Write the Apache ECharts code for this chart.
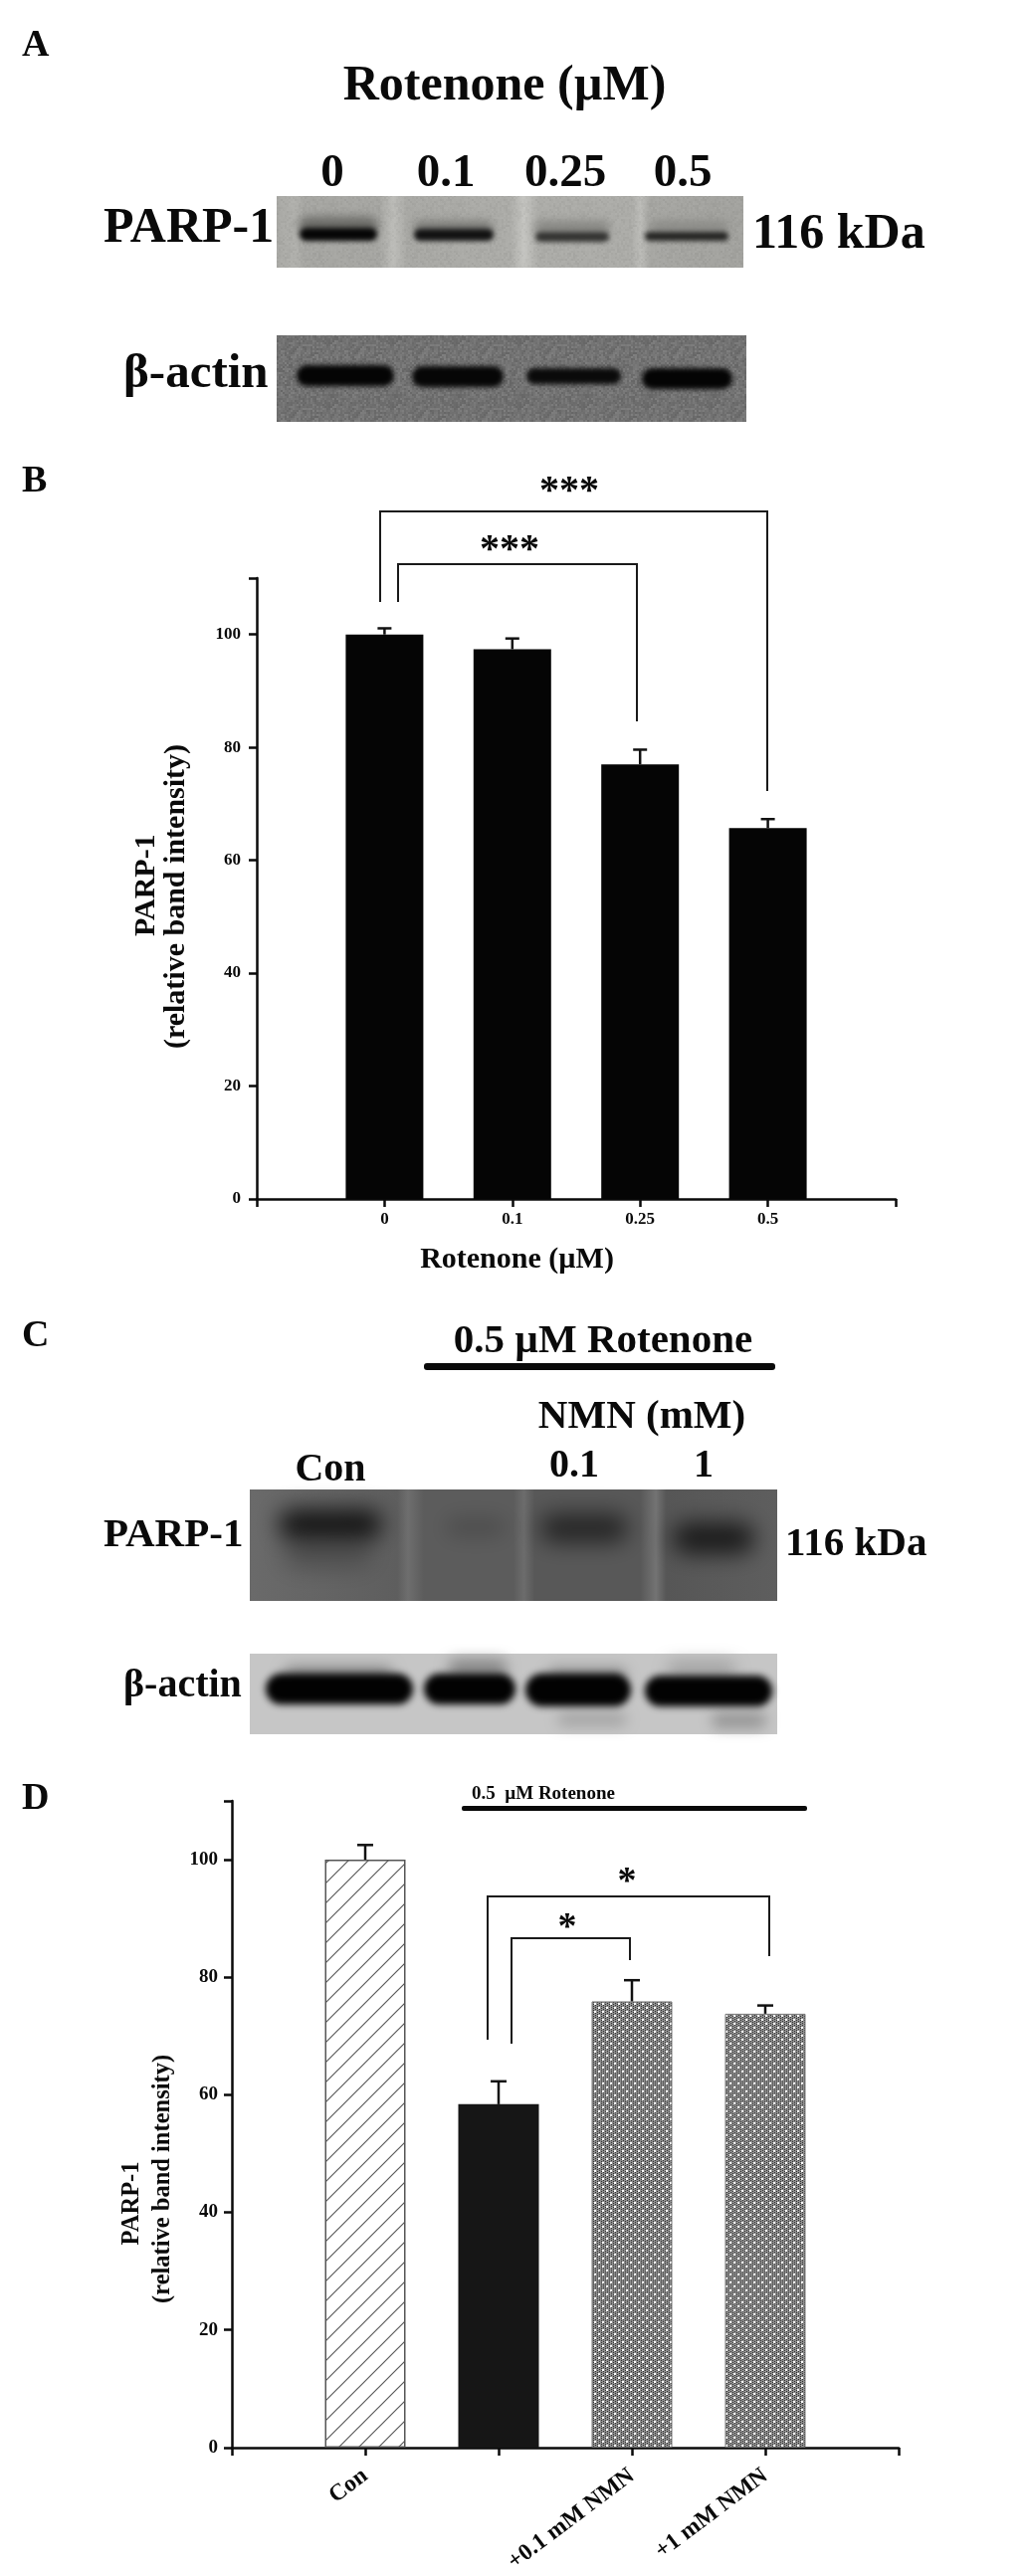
<!DOCTYPE html>
<html>
<head>
<meta charset="utf-8">
<style>
  html, body { margin: 0; padding: 0; background: #fff; }
  #chart { width: 1033px; height: 2589px; }
</style>
</head>
<body>
<div id="chart"></div>
<script src="https://cdn.jsdelivr.net/npm/echarts@6/dist/echarts.min.js"></script>
<script>
// panel B
const rotenoneDoses = ['', '0', '0.1', '0.25', '0.5', '']
const rotenoneMeans = [null, 100, 97.4, 77, 65.7, null]
const rotenoneErrTop = [null, 101.1, 99.3, 79.6, 67.3, null]

// panel D
const nmnGroups = ['', 'Con', ' ', '+0.1 mM NMN', '+1 mM NMN', '']
const nmnMeans = [null, 100, 58.4, 75.9, 73.8, null]
const nmnErrTop = [null, 102.5, 62.3, 79.5, 75.2, null]

const yTicks = [0, 20, 40, 60, 80, 100]

const SERIF = '"Liberation Serif", "Times New Roman", serif'
const INK = '#0a0a0a'

function hatchTile() {
  const c = document.createElement('canvas')
  c.width = c.height = 20
  const g = c.getContext('2d')
  g.fillStyle = '#fff'
  g.fillRect(0, 0, 20, 20)
  g.strokeStyle = '#5a5a5a'
  g.lineWidth = 1.2
  g.beginPath()
  g.moveTo(-2, 22); g.lineTo(22, -2)
  g.moveTo(-2, 2); g.lineTo(2, -2)
  g.moveTo(18, 22); g.lineTo(22, 18)
  g.stroke()
  return c
}

function dotTile() {
  const c = document.createElement('canvas')
  c.width = c.height = 16
  const g = c.getContext('2d')
  g.fillStyle = '#8f8f8f'
  g.fillRect(0, 0, 16, 16)
  g.fillStyle = '#333'
  for (let x = 0; x < 16; x += 2) {
    for (let y = (x % 4 ? 1 : 0); y < 16; y += 2) g.fillRect(x, y, 1, 1)
  }
  g.fillStyle = '#fff'
  ;[[1, 1], [9, 1], [5, 5], [13, 5], [1, 9], [9, 9], [5, 13], [13, 13]].forEach(p => g.fillRect(p[0], p[1], 2, 2))
  return c
}

// speckle for the film background, hash of the pixel position
function grainTile(amp) {
  const c = document.createElement('canvas')
  c.width = c.height = 64
  const g = c.getContext('2d')
  for (let x = 0; x < 64; x += 2) {
    for (let y = 0; y < 64; y += 2) {
      const h = Math.sin(x * 12.9898 + y * 78.233) * 43758.5453
      const v = (h - Math.floor(h)) * 2 - 1
      g.fillStyle = v > 0 ? `rgba(255,255,255,${v * amp})` : `rgba(0,0,0,${-v * amp})`
      g.fillRect(x, y, 2, 2)
    }
  }
  return c
}

const label = (text, x, baseline, size, align) => ({
  type: 'text',
  z: 20,
  style: {
    text, x, y: baseline - size * 0.31,
    font: `bold ${size}px ${SERIF}`,
    fill: INK,
    align: align || 'left',
    verticalAlign: 'middle'
  }
})

const path = (points, width) => ({
  type: 'polyline',
  z: 20,
  shape: { points },
  style: { stroke: '#1a1a1a', lineWidth: width || 2, fill: null }
})

const film = (x, y, width, height, fill, grain) => {
  const out = [{ type: 'rect', z: 1, shape: { x, y, width, height }, style: { fill } }]
  if (grain) {
    out.push({ type: 'rect', z: 1, shape: { x, y, width, height },
      style: { fill: { image: grainTile(grain), repeat: 'repeat' } } })
  }
  return out
}

// the shape sits off the page, only its blurred shadow lands on the film
const OFF = 3000
const band = (x, y, width, height, color, blur) => ({
  type: 'rect',
  z: 2,
  shape: { x: x - OFF, y, width, height, r: height / 2 },
  style: { fill: color, shadowBlur: blur, shadowColor: color, shadowOffsetX: OFF }
})

const lanes = (stops) => ({
  type: 'linear', x: 0, y: 0, x2: 1, y2: 0,
  colorStops: stops.map(s => ({ offset: s[0], color: s[1] }))
})

const blotA1 = [
  ...film(278, 197, 469, 72, lanes([[0, '#a8a8a4'], [0.04, '#b0b0ac'], [0.06, '#a6a6a2'], [0.22, '#a6a6a2'], [0.25, '#bcbcb8'], [0.28, '#a8a8a4'], [0.5, '#acaca8'], [0.53, '#c4c4c0'], [0.56, '#acaca8'], [0.76, '#acaca8'], [0.78, '#bcbcb8'], [0.8, '#a6a6a2'], [1, '#a2a29e']]), 0.04),
  band(300, 218, 80, 18, '#6a6a66', 10),
  band(416, 222, 80, 14, '#7a7a76', 10),
  band(537, 222, 76, 14, '#868682', 10),
  band(652, 222, 80, 12, '#8a8a86', 10),
  band(301, 229, 78, 13, '#060606', 5),
  band(416, 230, 80, 12, '#121212', 5),
  band(538, 233, 74, 10, '#333331', 5),
  band(648, 233, 84, 9, '#242422', 5)
]

const blotA2 = [
  ...film(278, 337, 472, 87, '#717171', 0.1),
  band(298, 367, 98, 21, '#040404', 5),
  band(414, 368, 92, 21, '#060606', 5),
  band(529, 370, 95, 16, '#0a0a0a', 5),
  band(645, 370, 91, 21, '#040404', 5)
]

const blotC1 = [
  ...film(251, 1497, 530, 112, lanes([[0, '#6a6a6a'], [0.28, '#5e5e5e'], [0.3, '#6e6e6e'], [0.33, '#5c5c5c'], [0.5, '#5c5c5c'], [0.52, '#6c6c6c'], [0.54, '#585858'], [0.74, '#585858'], [0.77, '#737373'], [0.79, '#565656'], [1, '#5e5e5e']])),
  band(285, 1545, 90, 30, '#4c4c4c', 24),
  band(280, 1517, 104, 30, '#141414', 22),
  band(448, 1525, 60, 20, '#4d4d4d', 20),
  band(543, 1521, 88, 30, '#262626', 22),
  band(676, 1530, 82, 32, '#1b1b1b', 22)
]

const blotC2 = [
  ...film(251, 1662, 530, 81, '#c6c6c6'),
  band(285, 1675, 110, 14, '#858585', 14),
  band(450, 1668, 60, 18, '#858585', 14),
  band(550, 1676, 80, 14, '#909090', 14),
  band(670, 1670, 70, 16, '#a0a0a0', 16),
  band(560, 1722, 70, 12, '#a0a0a0', 14),
  band(715, 1722, 55, 14, '#909090', 14),
  band(267, 1682, 148, 31, '#020202', 7),
  band(426, 1682, 92, 31, '#020202', 7),
  band(528, 1682, 106, 33, '#020202', 7),
  band(648, 1684, 128, 31, '#020202', 7)
]

const annotations = [
  ...blotA1, ...blotA2, ...blotC1, ...blotC2,

  label('A', 22, 58, 38),
  label('Rotenone (\u00b5M)', 507, 103, 50, 'center'),
  label('0', 334, 189, 47, 'center'),
  label('0.1', 448, 189, 47, 'center'),
  label('0.25', 568, 189, 47, 'center'),
  label('0.5', 686, 189, 47, 'center'),
  label('PARP-1', 104, 246, 50),
  label('116 kDa', 756, 252, 50),
  label('\u03b2-actin', 124, 392, 49),

  label('B', 22, 496, 38),
  label('***', 572, 507, 40, 'center'),
  label('***', 512, 566, 40, 'center'),
  path([[382, 605], [382, 514], [771, 514], [771, 795]]),
  path([[400, 605], [400, 567], [640, 567], [640, 725]]),

  label('C', 22, 1355, 38),
  label('0.5 \u00b5M Rotenone', 606, 1361, 41, 'center'),
  { type: 'rect', z: 20, shape: { x: 426, y: 1370, width: 353, height: 7, r: 3 }, style: { fill: INK } },
  label('NMN (mM)', 645, 1437, 41, 'center'),
  label('Con', 332, 1490, 40, 'center'),
  label('0.1', 577, 1486, 40, 'center'),
  label('1', 707, 1486, 40, 'center'),
  label('PARP-1', 104, 1556, 41),
  label('116 kDa', 789, 1565, 41),
  label('\u03b2-actin', 124, 1707, 40),

  label('D', 22, 1820, 38),
  label('0.5  \u00b5M Rotenone', 474, 1809, 19),
  { type: 'rect', z: 20, shape: { x: 464, y: 1815, width: 347, height: 5, r: 2 }, style: { fill: INK } },
  label('*', 630, 1904, 38, 'center'),
  label('*', 570, 1950, 38, 'center'),
  path([[490, 2050], [490, 1906], [773, 1906], [773, 1966]]),
  path([[514, 2054], [514, 1948], [633, 1948], [633, 1970]])
]

const axisLine = { show: true, onZero: false, lineStyle: { color: INK, width: 2.5 } }
const axisTick = { show: true, length: 8, lineStyle: { color: INK, width: 2.5 } }

function errorBars(index, errTop, capHalf) {
  return {
    type: 'custom',
    xAxisIndex: index,
    yAxisIndex: index,
    z: 5,
    data: errTop.map((top, i) => [i, top, index === 0 ? rotenoneMeans[i] : nmnMeans[i]]),
    encode: { x: 0, y: 1 },
    renderItem(params, api) {
      if (api.value(1) == null || isNaN(api.value(1))) return null
      const high = api.coord([api.value(0), api.value(1)])
      const base = api.coord([api.value(0), api.value(2)])
      const style = { stroke: '#111', lineWidth: 2.5 }
      return {
        type: 'group',
        children: [
          { type: 'line', shape: { x1: high[0], y1: base[1], x2: high[0], y2: high[1] }, style },
          { type: 'line', shape: { x1: high[0] - capHalf, y1: high[1], x2: high[0] + capHalf, y2: high[1] }, style }
        ]
      }
    }
  }
}

const hatch = { image: hatchTile(), repeat: 'repeat' }
const dots = { image: dotTile(), repeat: 'repeat' }
const nmnStyles = [
  null,
  { color: hatch, borderColor: '#555', borderWidth: 1.5 },
  { color: '#161616' },
  { color: dots, borderColor: '#777', borderWidth: 1 },
  { color: dots, borderColor: '#777', borderWidth: 1 },
  null
]

const chart = echarts.init(document.getElementById('chart'), null, { renderer: 'canvas' })

chart.setOption({
  animation: false,
  backgroundColor: '#fff',
  grid: [
    { left: 258, top: 581, width: 642, height: 624 },
    { left: 233, top: 1810, width: 670, height: 652 }
  ],
  xAxis: [
    {
      type: 'category',
      gridIndex: 0,
      data: rotenoneDoses,
      boundaryGap: false,
      axisLine, axisTick,
      axisLabel: { interval: 0, margin: 12, fontFamily: SERIF, fontWeight: 'bold', fontSize: 17, color: INK },
      name: 'Rotenone (\u00b5M)',
      nameLocation: 'middle',
      nameGap: 46,
      nameTextStyle: { fontFamily: SERIF, fontWeight: 'bold', fontSize: 30, color: INK, padding: [0, 119, 0, 0] }
    },
    {
      type: 'category',
      gridIndex: 1,
      data: nmnGroups,
      boundaryGap: false,
      axisLine, axisTick,
      axisLabel: { interval: 0, rotate: 37, margin: 26, fontFamily: SERIF, fontWeight: 'bold', fontSize: 23.5, color: INK }
    }
  ],
  yAxis: [
    {
      type: 'value',
      gridIndex: 0,
      min: 0,
      max: 110,
      interval: 20,
      axisLine, axisTick,
      splitLine: { show: false },
      axisLabel: { margin: 16, fontFamily: SERIF, fontWeight: 'bold', fontSize: 17, color: INK,
        formatter: v => yTicks.includes(v) ? String(v) : '' },
      name: '\u00a0\u00a0\u00a0PARP-1\n(relative band intensity)',
      nameLocation: 'middle',
      nameGap: 66,
      nameRotate: 90,
      nameTextStyle: { fontFamily: SERIF, fontWeight: 'bold', fontSize: 30, lineHeight: 30, color: INK, padding: [0, 16, 0, 0] }
    },
    {
      type: 'value',
      gridIndex: 1,
      min: 0,
      max: 110,
      interval: 20,
      axisLine, axisTick,
      splitLine: { show: false },
      axisLabel: { margin: 14, fontFamily: SERIF, fontWeight: 'bold', fontSize: 19, color: INK,
        formatter: v => yTicks.includes(v) ? String(v) : '' },
      name: 'PARP-1\u00a0\u00a0\u00a0\u00a0\u00a0\u00a0\u00a0\u00a0\n(relative band intensity)',
      nameLocation: 'middle',
      nameGap: 47,
      nameRotate: 90,
      nameTextStyle: { fontFamily: SERIF, fontWeight: 'bold', fontSize: 24.5, lineHeight: 31, color: INK, padding: [0, 110, 0, 0] }
    }
  ],
  series: [
    {
      type: 'bar',
      xAxisIndex: 0,
      yAxisIndex: 0,
      barWidth: 78,
      itemStyle: { color: '#050505' },
      data: rotenoneMeans
    },
    errorBars(0, rotenoneErrTop, 7),
    {
      type: 'bar',
      xAxisIndex: 1,
      yAxisIndex: 1,
      barWidth: 81,
      data: nmnMeans.map((value, i) => ({ value, itemStyle: nmnStyles[i] || {} }))
    },
    errorBars(1, nmnErrTop, 8)
  ],
  graphic: { elements: annotations }
})
</script>
</body>
</html>
